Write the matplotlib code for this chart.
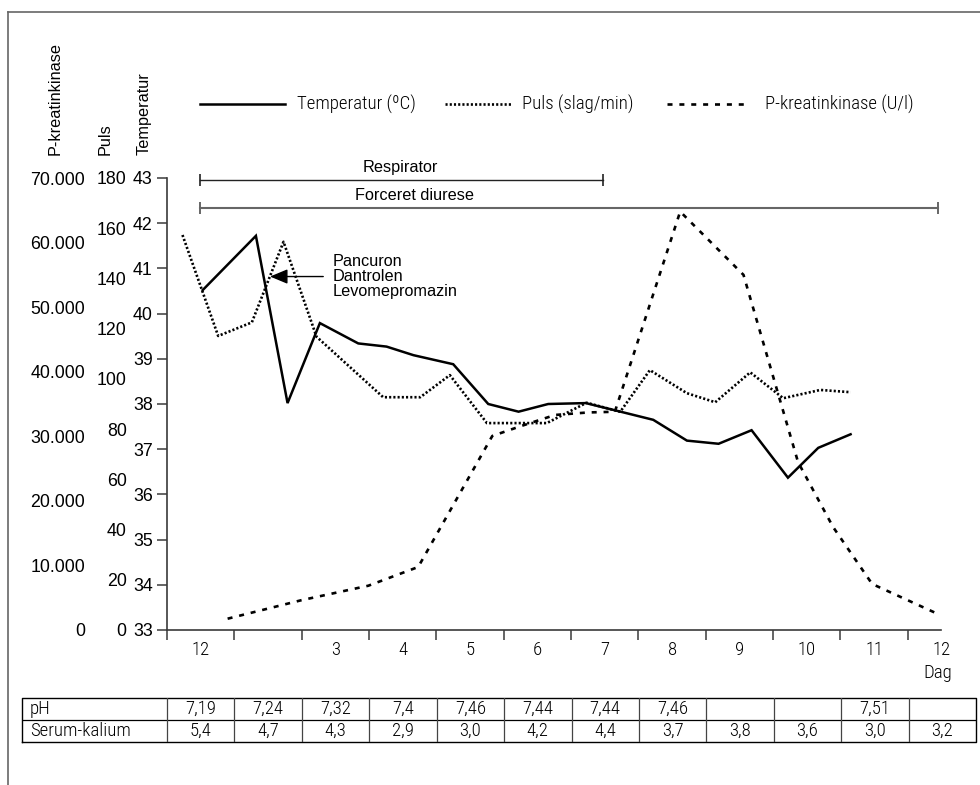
import matplotlib
matplotlib.use("Agg")
import matplotlib.pyplot as plt
from matplotlib.lines import Line2D
import matplotlib.font_manager as fm

# ---------------- data ----------------
day_labels = ["12", "", "3", "4", "5", "6", "7", "8", "9", "10", "11", "12"]

temp_x = [0.53, 1.32, 1.79, 2.27, 2.84, 3.26, 3.66, 4.25, 4.77, 5.22, 5.66,
          6.22, 6.68, 7.22, 7.72, 8.19, 8.68, 9.22, 9.67, 10.15]
temp_c = [40.52, 41.72, 38.02, 39.79, 39.34, 39.27, 39.08, 38.88, 38.0, 37.83,
          38.0, 38.02, 37.85, 37.65, 37.19, 37.12, 37.42, 36.37, 37.03, 37.33]

puls_x = [0.23, 0.76, 1.26, 1.73, 2.22, 3.21, 3.76, 4.20, 4.75, 5.64, 6.23,
          6.73, 7.17, 7.72, 8.14, 8.66, 9.15, 9.70, 10.15]
puls_v = [157.3, 117.1, 122.5, 154.6, 116.8, 92.7, 92.7, 101.5, 82.4, 82.4,
          90.5, 86.9, 103.5, 94.3, 90.7, 102.6, 92.3, 95.6, 94.7]

pk_x = [0.90, 1.99, 2.99, 3.73, 4.83, 5.23, 5.76, 6.25, 6.65, 7.62, 8.56,
        9.37, 9.89, 10.47, 11.48]
pk_v = [1750, 4600, 6860, 9760, 30050, 31490, 33300, 33690, 33800, 64800,
        55000, 26000, 15950, 7130, 2320]

temp_ticks = list(range(33, 44))
puls_ticks = list(range(0, 181, 20))
pk_ticks = list(range(0, 70001, 10000))

respirator_span = (0.49, 6.47)
diurese_span = (0.49, 11.45)
drugs = ["Pancuron", "Dantrolen", "Levomepromazin"]

table_rows = ["pH", "Serum-kalium"]
ph_values = [7.19, 7.24, 7.32, 7.4, 7.46, 7.44, 7.44, 7.46, None, None, 7.51, None]
kalium_values = [5.4, 4.7, 4.3, 2.9, 3.0, 4.2, 4.4, 3.7, 3.8, 3.6, 3.0, 3.2]

legend_labels = ["Temperatur (ºC)", "Puls (slag/min)", "P-kreatinkinase (U/l)"]

# ---------------- fonts ----------------
avail = {f.name for f in fm.fontManager.ttflist}
REG = "Liberation Sans"
NARROW = next((n for n in ["Liberation Sans Narrow", "Roboto Condensed",
                           "Open Sans Condensed", "DejaVu Sans Condensed"]
               if n in avail), None)
if NARROW is None:
    NARROW = REG
    NSIZE = 12.0
else:
    NSIZE = 13.5
NW = "light"
plt.rcParams["font.family"] = [REG, "DejaVu Sans"]

# ---------------- styles ----------------
st_temp = dict(color="black", lw=1.8, linestyle="-", solid_joinstyle="miter")
st_puls = dict(color="black", lw=1.9, linestyle=(0, (0.8, 0.8)))
st_pk = dict(color="black", lw=1.9, linestyle=(0, (1.9, 2.6)))

W, H = 980, 785
fx = lambda px: px / W
fy = lambda py: 1 - py / H

fig = plt.figure(figsize=(9.8, 7.85), dpi=100)

ax_l, ax_r, ax_t, ax_b = 167, 941.5, 178, 630
rect = [fx(ax_l), fy(ax_b), (ax_r - ax_l) / W, (ax_b - ax_t) / H]
ax = fig.add_axes(rect)
ax_p = fig.add_axes(rect, frameon=False)
ax_k = fig.add_axes(rect, frameon=False)

xmax = 11.5
for a in (ax, ax_p, ax_k):
    a.set_xlim(0, xmax)

spine_c = "#3a3a3a"
ax.set_ylim(33, 43)
ax.set_yticks(temp_ticks)
ax.set_yticklabels([str(t) for t in temp_ticks])
ax.tick_params(axis="y", length=7.2, width=1.1, color=spine_c, pad=3,
               labelsize=12.8)
ax.set_xticks(range(0, 12))
ax.set_xticklabels([""] * 12)
ax.set_xticks([i + 0.5 for i in range(12)], minor=True)
ax.set_xticklabels(day_labels, minor=True, fontfamily=NARROW, fontsize=NSIZE,
                   fontweight=NW)
ax.tick_params(axis="x", which="major", length=7.2, width=1.1, color=spine_c)
ax.tick_params(axis="x", which="minor", length=0, pad=8)
for s in ("top", "right"):
    ax.spines[s].set_visible(False)
for s in ("left", "bottom"):
    ax.spines[s].set_color(spine_c)
    ax.spines[s].set_linewidth(1.2)

ax_p.set_ylim(0, 180)
ax_p.set_yticks(puls_ticks)
ax_p.set_yticklabels([str(t) for t in puls_ticks])
ax_p.tick_params(axis="y", length=0, pad=29, labelsize=12.8)
ax_p.set_xticks([])

ax_k.set_ylim(0, 70000)
ax_k.set_yticks(pk_ticks)
ax_k.set_yticklabels([f"{t:,}".replace(",", ".") for t in pk_ticks])
ax_k.tick_params(axis="y", length=0, pad=59, labelsize=12.8)
ax_k.set_xticks([])

# series
ax.plot(temp_x, temp_c, **st_temp)
ax_p.plot(puls_x, puls_v, **st_puls)
ax_k.plot(pk_x, pk_v, **st_pk)

# treatment bars
ax.plot(respirator_span, [42.96, 42.96], color="#222222", lw=1.0,
        marker="|", ms=8, mew=1.2, clip_on=False)
ax.plot(diurese_span, [42.34, 42.34], color="#666666", lw=1.5,
        marker="|", ms=8, mew=1.4, clip_on=False)
ax.text(3.46, 43.24, "Respirator", ha="center", va="center", fontsize=11.7,
        clip_on=False)
ax.text(3.67, 42.62, "Forceret diurese", ha="center", va="center",
        fontsize=11.7, clip_on=False)

# drug annotation
ax.annotate("", xy=(1.53, 40.82), xytext=(2.32, 40.82),
            arrowprops=dict(arrowstyle="-|>,head_length=0.6,head_width=0.25",
                            color="black", lw=1.0, mutation_scale=18,
                            shrinkA=0, shrinkB=0))
ax.text(2.46, 40.82, "\n".join(drugs), ha="left", va="center",
        fontsize=11.7, linespacing=1.0)

# axis titles
fig.text(fx(55), fy(155), "P-kreatinkinase", rotation=90, ha="center",
         va="bottom", fontsize=11.7)
fig.text(fx(105), fy(155), "Puls", rotation=90, ha="center", va="bottom",
         fontsize=11.7)
fig.text(fx(144), fy(155), "Temperatur", rotation=90, ha="center",
         va="bottom", fontsize=11.7)

# legend
leg_y = fy(104)
legend_items = [((200, 285), 297, st_temp), ((445, 512), 522, st_puls),
                ((667, 747), 765, st_pk)]
for (x0, x1), tx, st in legend_items:
    fig.add_artist(Line2D([fx(x0), fx(x1)], [leg_y, leg_y],
                          transform=fig.transFigure, **st))
for ((x0, x1), tx, st), lab in zip(legend_items, legend_labels):
    fig.text(fx(tx), leg_y, lab, ha="left", va="center", fontfamily=NARROW,
             fontsize=NSIZE, fontweight=NW)

# Dag
fig.text(fx(952), fy(673), "Dag", ha="right", va="center", fontfamily=NARROW,
         fontsize=NSIZE, fontweight=NW)

# table
tl, tr, tt, tb = 22, 976, 698, 742
tab = fig.add_axes([fx(tl), fy(tb), (tr - tl) / W, (tb - tt) / H])
colw = (tr - ax_l) / 12
x0 = -(ax_l - tl) / colw
tab.set_xlim(x0, 12)
tab.set_ylim(0, 2)
tab.axis("off")
tab.plot([x0, 12, 12, x0, x0], [0, 0, 2, 2, 0], color="black", lw=1.0,
         clip_on=False)
tab.plot([x0, 12], [1, 1], color="black", lw=0.9)
for i in range(12):
    tab.plot([i, i], [0, 2], color="#444444", lw=0.9)
row_vals = [
    ["" if v is None else f"{v:g}".replace(".", ",") for v in ph_values],
    [f"{v:.1f}".replace(".", ",") for v in kalium_values],
]
for r, (lab, vals) in enumerate(zip(table_rows, row_vals)):
    yc = 1.5 - r
    tab.text(x0 + 8 / colw, yc, lab, ha="left", va="center",
             fontfamily=NARROW, fontsize=NSIZE, fontweight=NW)
    for i, v in enumerate(vals):
        tab.text(i + 0.5, yc, v, ha="center", va="center",
                 fontfamily=NARROW, fontsize=NSIZE, fontweight=NW)

# page frame (top and left edges)
fig.add_artist(Line2D([fx(8), 1], [fy(12), fy(12)], transform=fig.transFigure,
                      color="#666666", lw=1.2))
fig.add_artist(Line2D([fx(8), fx(8)], [fy(12), 0], transform=fig.transFigure,
                      color="#666666", lw=1.2))

fig.savefig("out.png", dpi=100)
